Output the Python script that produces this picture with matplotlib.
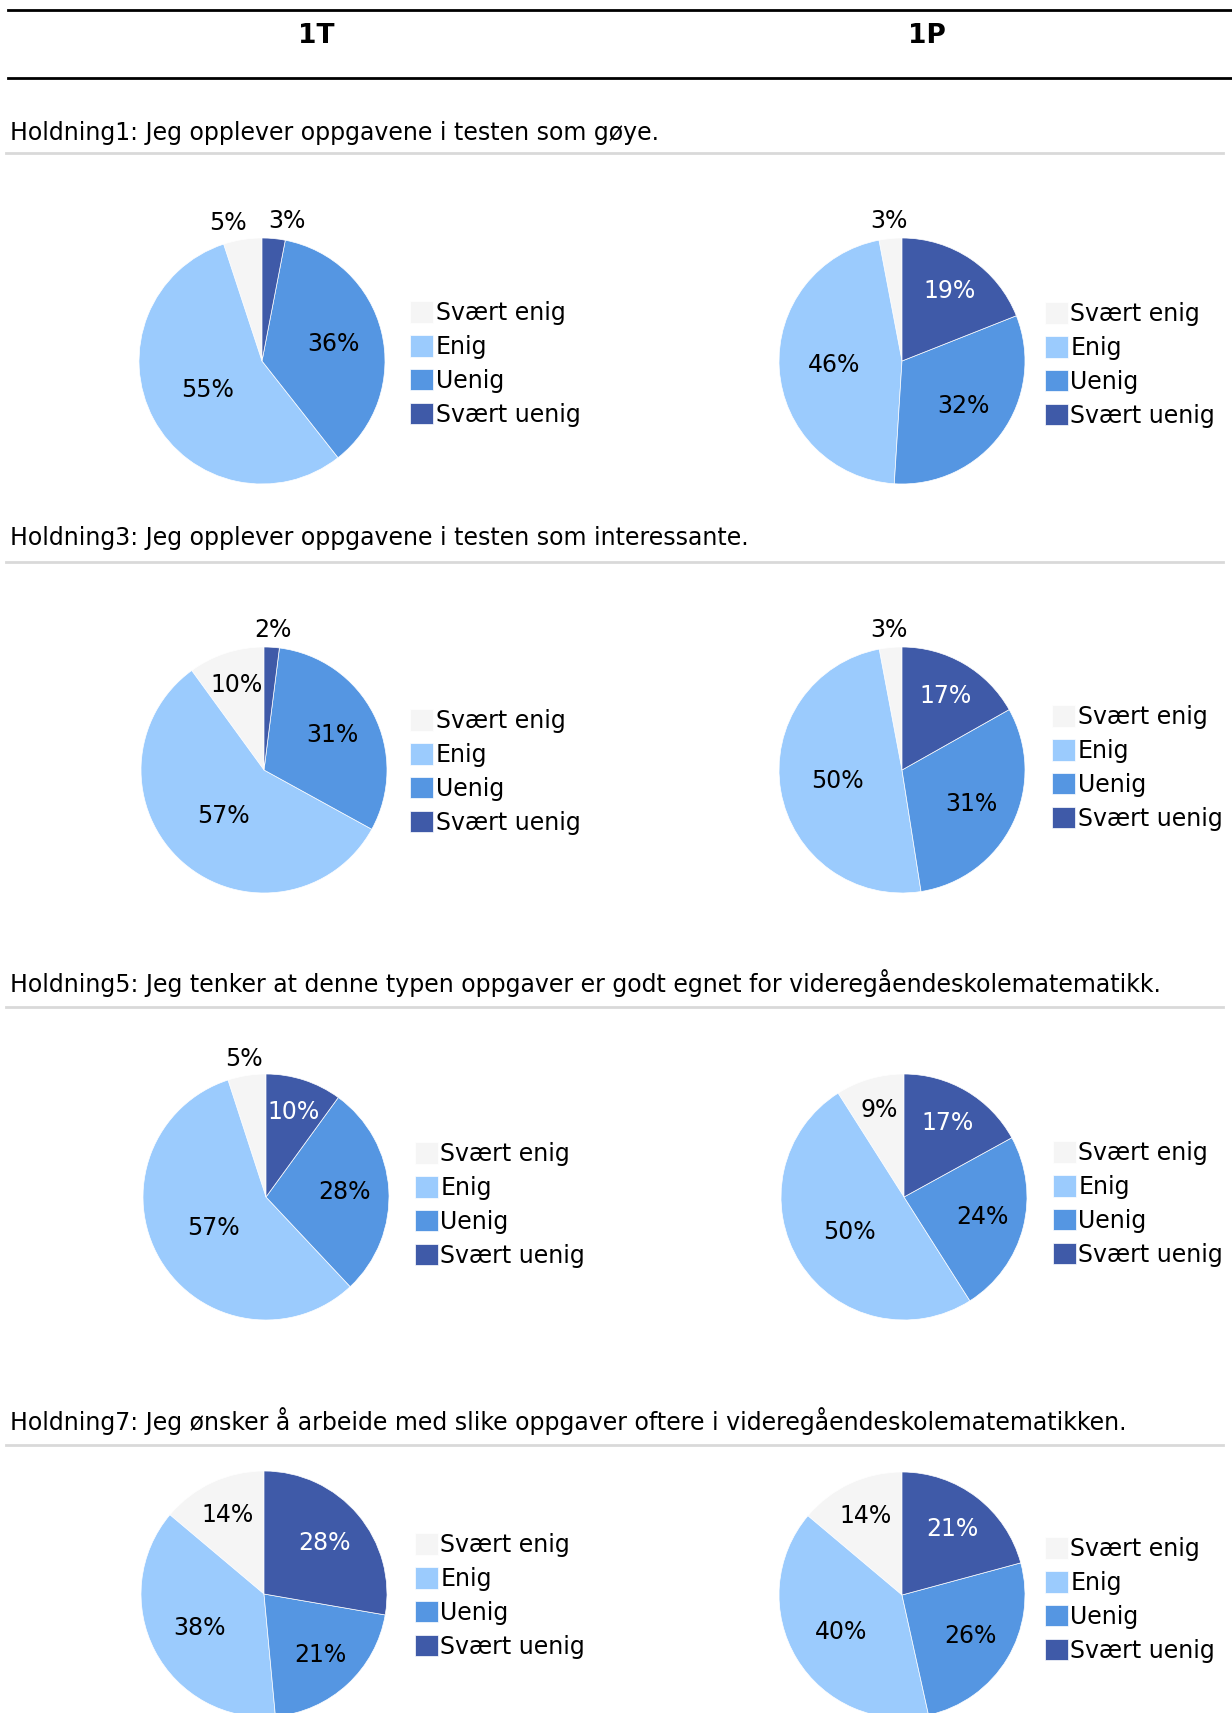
import numpy as np
import matplotlib.pyplot as plt

# answer categories, in the order they run counter-clockwise from 12 o'clock
categories = ["Svært enig", "Enig", "Uenig", "Svært uenig"]
colors = ["#F5F5F5", "#9BCBFD", "#5596E2", "#3F5AA8"]

groups = ["1T", "1P"]

questions = [
    "Holdning1: Jeg opplever oppgavene i testen som gøye.",
    "Holdning3: Jeg opplever oppgavene i testen som interessante.",
    "Holdning5: Jeg tenker at denne typen oppgaver er godt egnet for videregåendeskolematematikk.",
    "Holdning7: Jeg ønsker å arbeide med slike oppgaver oftere i videregåendeskolematematikken.",
]

# percentages per question: [Svært enig, Enig, Uenig, Svært uenig]
h1_1t = [5, 55, 36, 3]
h1_1p = [3, 46, 32, 19]
h3_1t = [10, 57, 31, 2]
h3_1p = [3, 50, 31, 17]
h5_1t = [5, 57, 28, 10]
h5_1p = [9, 50, 24, 17]
h7_1t = [14, 38, 21, 28]
h7_1p = [14, 40, 26, 21]

values_1t = [h1_1t, h3_1t, h5_1t, h7_1t]
values_1p = [h1_1p, h3_1p, h5_1p, h7_1p]

# page layout in pixels
W, H = 1232, 1713
R = 123
title_y = [133, 538, 983, 1421]
rule_y = [153, 562, 1007, 1445]
pie_1t = [(262, 361), (264, 770), (266, 1197), (264, 1594)]
pie_1p = [(902, 361), (902, 770), (904, 1197), (902, 1595)]
leg_1t = [(410, 364), (410, 772), (415, 1205), (415, 1596)]
leg_1p = [(1045, 365), (1052, 768), (1053, 1204), (1045, 1600)]

CHART_FS = 17

fig = plt.figure(figsize=(W / 100, H / 100), dpi=100)
fig.patch.set_facecolor("white")


def fx(x):
    return x / W


def fy(y):
    return 1 - y / H


def draw_pie(vals, center, legend_at):
    cx, cy = center
    lim = 1.5
    side = 2 * R * lim
    ax = fig.add_axes([fx(cx - side / 2), fy(cy + side / 2), side / W, side / H])
    wedges, _ = ax.pie(vals, colors=colors, startangle=90, counterclock=True,
                       wedgeprops=dict(edgecolor="white", linewidth=0.5))
    ax.set_xlim(-lim, lim)
    ax.set_ylim(-lim, lim)
    ax.set_aspect("equal")
    ax.axis("off")

    total = sum(vals)
    outside = []
    for i, (w, v) in enumerate(zip(wedges, vals)):
        mid = np.deg2rad((w.theta1 + w.theta2) / 2)
        frac = v / total
        txt = f"{v}%"
        if frac < 0.07:
            outside.append([np.cos(mid) * 1.14, np.sin(mid) * 1.14, txt])
        else:
            d = 0.78 - 0.5 * frac
            col = "white" if i == 3 else "black"
            ax.text(np.cos(mid) * d, np.sin(mid) * d, txt, ha="center", va="center",
                    fontsize=CHART_FS, color=col)
    # keep small outside labels from running into each other
    if len(outside) == 2:
        a, b = sorted(outside, key=lambda o: o[0])
        if b[0] - a[0] < 0.48:
            m = (a[0] + b[0]) / 2
            a[0], b[0] = m - 0.24, m + 0.24
    for x, y, txt in outside:
        ax.text(x, y, txt, ha="center", va="center", fontsize=CHART_FS, color="black")

    lx, ly = legend_at
    fig.legend(wedges, categories, loc="center left",
               bbox_to_anchor=(fx(lx), fy(ly)), frameon=False, fontsize=CHART_FS,
               handlelength=0.98, handleheight=1.0, handletextpad=0.1,
               labelspacing=0.42, borderpad=0, borderaxespad=0)


# header rows
for y in (10, 77.5):
    fig.add_artist(plt.Line2D([fx(8), fx(1232)], [fy(y), fy(y)], color="black", lw=2))
for label, x in zip(groups, (316, 927)):
    fig.text(fx(x), fy(36), label, ha="center", va="center", fontsize=19,
             fontweight="bold")

for q in range(4):
    fig.text(fx(10), fy(title_y[q]), questions[q], ha="left", va="center",
             fontsize=17)
    fig.add_artist(plt.Line2D([fx(6), fx(1223)], [fy(rule_y[q]), fy(rule_y[q])],
                              color="#D9D9D9", lw=2))
    draw_pie(values_1t[q], pie_1t[q], leg_1t[q])
    draw_pie(values_1p[q], pie_1p[q], leg_1p[q])

fig.savefig("out.png", dpi=100, facecolor="white")
